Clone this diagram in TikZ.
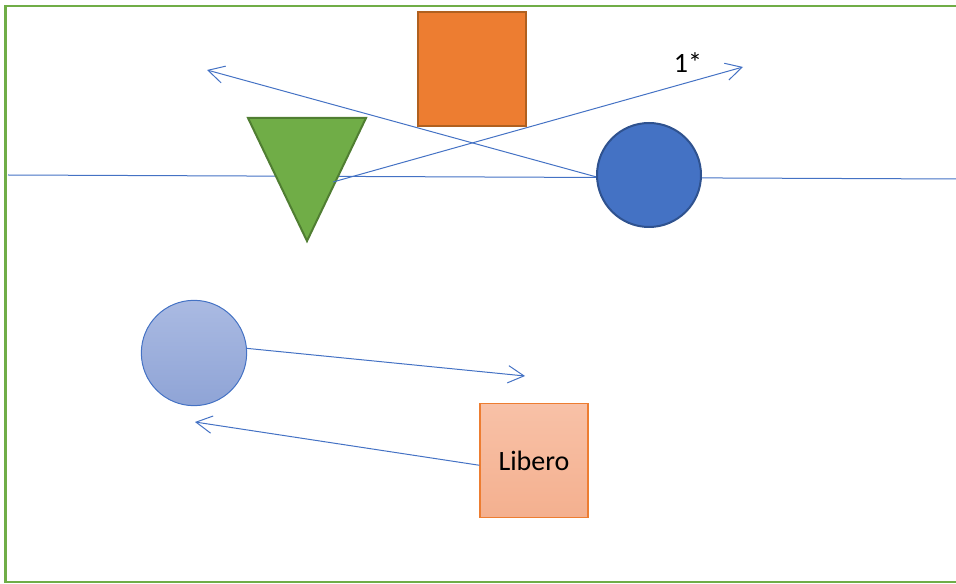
\documentclass[tikz,border=0pt]{standalone}
\usepackage{fontspec}
\setmainfont{Carlito}
\usepackage{xcolor}
\usetikzlibrary{shapes.geometric, arrows.meta, positioning, calc}

\definecolor{framegreen}{HTML}{70AD47}
\definecolor{trigreen}{HTML}{70AD47}
\definecolor{tridark}{HTML}{507E32}
\definecolor{linkblue}{HTML}{4472C4}
\definecolor{balldark}{HTML}{2F528F}
\definecolor{boxorange}{HTML}{ED7D31}
\definecolor{boxdark}{HTML}{B0601F}
\definecolor{softtop}{HTML}{AABAE2}
\definecolor{softbot}{HTML}{8FA4D6}
\definecolor{peachtop}{HTML}{F8C1A7}
\definecolor{peachbot}{HTML}{F4B08F}

\begin{document}
\begin{tikzpicture}[
    x=0.75pt, y=-0.75pt,
    every node/.style={font=\fontsize{21}{25}\selectfont},
    frame/.style={draw=framegreen, line width=2pt},
    ball/.style={circle, draw=balldark, fill=linkblue, line width=1.5pt, minimum size=78pt, inner sep=0pt},
    softball/.style={circle, draw=linkblue, line width=0.75pt, top color=softtop, bottom color=softbot, minimum size=79pt, inner sep=0pt},
    block/.style={rectangle, draw=boxdark, fill=boxorange, line width=1.5pt, minimum width=81pt, minimum height=86pt, inner sep=0pt},
    libbox/.style={rectangle, draw=boxorange, line width=0.9pt, top color=peachtop, bottom color=peachbot, minimum width=81pt, minimum height=85pt, align=center},
    wedge/.style={draw=tridark, fill=trigreen, line width=1.5pt, line join=miter},
    link/.style={draw=linkblue, line width=0.75pt},
    arrow/.style={link, -{Straight Barb[length=12pt, width=13pt, line width=0.75pt]}}
]
\clip (0,0) rectangle (956,584);

% frame
\draw[frame] (5.5,6) rectangle (975,582);

% free ends of the links
\coordinate (lineL) at (8,175);
\coordinate (lineR) at (960,179);
\coordinate (tipUL) at (207,70);
\coordinate (tipUR) at (743,67);
\coordinate (tipMid) at (525,376);
\coordinate (tipLow) at (195,422);
\coordinate (triIn) at (333,182);

% horizontal line behind the shapes
\draw[link] (lineL) -- (lineR);

% shapes
\node[block] (orange) at (472,69) {};
\draw[wedge] (248,118) coordinate (triA) -- (366,118) coordinate (triB) -- (307,241) coordinate (triC) -- cycle;
\node[ball] (blue) at (649,175) {};
\node[softball] (soft) at (194,353) {};
\node[libbox] (libero) at (534,460.5) {Libero};

% links
\draw[arrow] (blue.182) -- (tipUL);
\draw[arrow] (triIn) -- (tipUR);
\node (mult) at (688,63) {1*};
\draw[arrow] (soft.5) -- (tipMid);
\draw[arrow] (libero.185) -- (tipLow);
\end{tikzpicture}
\end{document}
